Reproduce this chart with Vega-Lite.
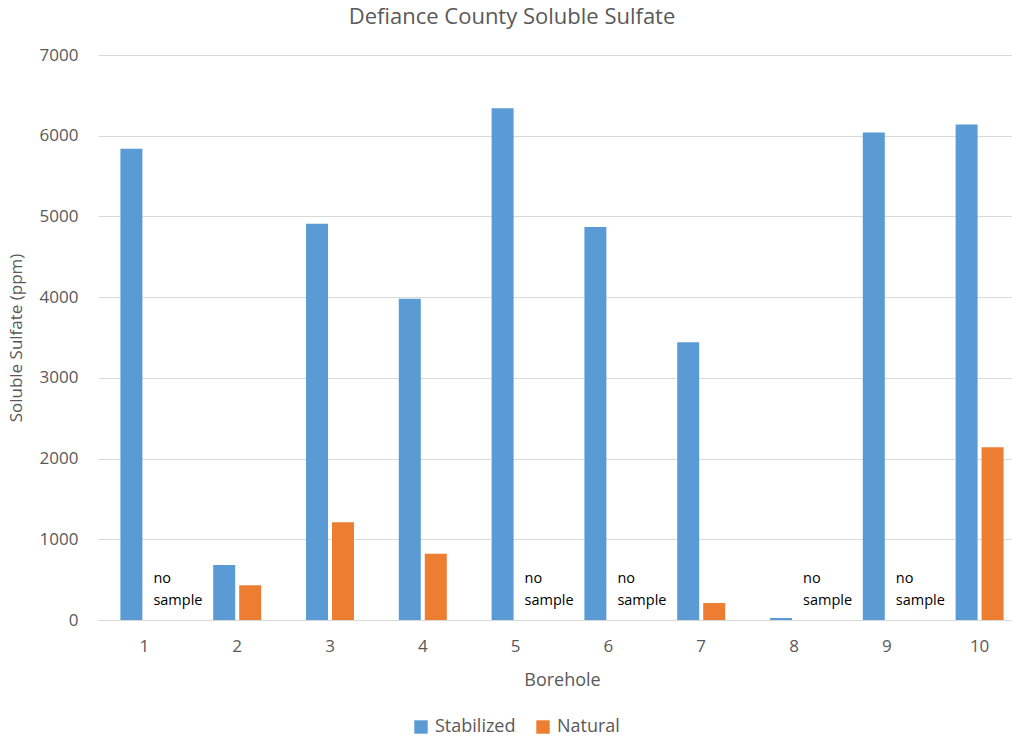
{
  "$schema": "https://vega.github.io/schema/vega-lite/v6.json",
  "autosize": "none",
  "width": 928,
  "height": 565,
  "padding": {"left": 98, "top": 55, "right": 0, "bottom": 120},
  "background": "white",
  "title": {
    "text": "Defiance County Soluble Sulfate",
    "font": "Open Sans",
    "fontSize": 22,
    "fontWeight": "normal",
    "color": "#595959",
    "anchor": "middle",
    "dx": -50,
    "offset": 17
  },
  "data": {
    "values": [
      {"borehole": "1", "type": "Stabilized", "ppm": 5840, "note": null},
      {"borehole": "1", "type": "Natural", "ppm": null, "note": "no\nsample"},
      {"borehole": "2", "type": "Stabilized", "ppm": 680, "note": null},
      {"borehole": "2", "type": "Natural", "ppm": 430, "note": null},
      {"borehole": "3", "type": "Stabilized", "ppm": 4910, "note": null},
      {"borehole": "3", "type": "Natural", "ppm": 1210, "note": null},
      {"borehole": "4", "type": "Stabilized", "ppm": 3980, "note": null},
      {"borehole": "4", "type": "Natural", "ppm": 820, "note": null},
      {"borehole": "5", "type": "Stabilized", "ppm": 6340, "note": null},
      {"borehole": "5", "type": "Natural", "ppm": null, "note": "no\nsample"},
      {"borehole": "6", "type": "Stabilized", "ppm": 4870, "note": null},
      {"borehole": "6", "type": "Natural", "ppm": null, "note": "no\nsample"},
      {"borehole": "7", "type": "Stabilized", "ppm": 3440, "note": null},
      {"borehole": "7", "type": "Natural", "ppm": 210, "note": null},
      {"borehole": "8", "type": "Stabilized", "ppm": 25, "note": null},
      {"borehole": "8", "type": "Natural", "ppm": null, "note": "no\nsample"},
      {"borehole": "9", "type": "Stabilized", "ppm": 6040, "note": null},
      {"borehole": "9", "type": "Natural", "ppm": null, "note": "no\nsample"},
      {"borehole": "10", "type": "Stabilized", "ppm": 6140, "note": null},
      {"borehole": "10", "type": "Natural", "ppm": 2140, "note": null}
    ]
  },
  "encoding": {
    "x": {
      "field": "borehole",
      "type": "nominal",
      "sort": null,
      "scale": {"paddingInner": 0.483, "paddingOuter": 0.2415},
      "axis": {
        "title": "Borehole",
        "labelAngle": 0,
        "labelFont": "Open Sans",
        "labelFontSize": 17,
        "labelColor": "#595959",
        "labelPadding": 18,
        "titleFont": "Open Sans",
        "titleFontSize": 18,
        "titleFontWeight": "normal",
        "titleColor": "#595959",
        "titlePadding": 17,
        "ticks": false,
        "domainColor": "#d9d9d9",
        "domainWidth": 1,
        "grid": false
      }
    },
    "xOffset": {
      "field": "type",
      "type": "nominal",
      "sort": ["Stabilized", "Natural"],
      "scale": {"paddingInner": 0.154, "paddingOuter": 0}
    }
  },
  "layer": [
    {
      "mark": {"type": "bar"},
      "encoding": {
        "y": {
          "field": "ppm",
          "type": "quantitative",
          "scale": {"domain": [0, 7000], "nice": false},
          "axis": {
            "title": "Soluble Sulfate (ppm)",
            "values": [0, 1000, 2000, 3000, 4000, 5000, 6000, 7000],
            "format": "d",
            "labelFont": "Open Sans",
            "labelFontSize": 17,
            "labelColor": "#595959",
            "labelPadding": 20,
            "titleFont": "Open Sans",
            "titleFontSize": 17,
            "titleFontWeight": "normal",
            "titleColor": "#595959",
            "titlePadding": 14,
            "ticks": false,
            "domain": false,
            "gridColor": "#d9d9d9",
            "gridWidth": 1
          }
        },
        "color": {
          "field": "type",
          "type": "nominal",
          "sort": ["Stabilized", "Natural"],
          "scale": {"domain": ["Stabilized", "Natural"], "range": ["#5B9BD5", "#ED7D31"]},
          "legend": {
            "title": null,
            "orient": "none",
            "direction": "horizontal",
            "legendX": 314,
            "legendY": 663,
            "symbolType": "square",
            "symbolSize": 180,
            "symbolStrokeWidth": 0,
            "labelFont": "Open Sans",
            "labelFontSize": 18,
            "labelColor": "#595959",
            "columnPadding": 18,
            "labelOffset": 5
          }
        }
      }
    },
    {
      "transform": [{"filter": "datum.note != null"}],
      "mark": {
        "type": "text",
        "align": "left",
        "baseline": "middle",
        "dx": -4,
        "font": "Open Sans",
        "fontSize": 14.5,
        "color": "#000000",
        "lineBreak": "\n",
        "lineHeight": 22
      },
      "encoding": {
        "y": {"datum": 505, "type": "quantitative"},
        "text": {"field": "note"}
      }
    }
  ],
  "config": {
    "view": {"stroke": null}
  }
}
